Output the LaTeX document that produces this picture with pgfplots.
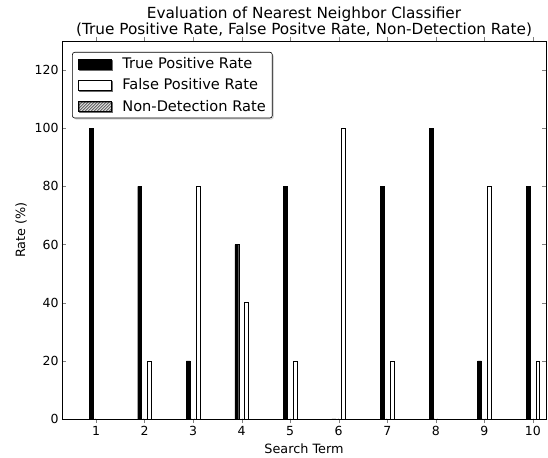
\documentclass[border=0pt]{standalone}
\usepackage{fontspec}
\setmainfont{DejaVu Sans}
\usepackage{pgfplots}
\pgfplotsset{compat=1.18}
\usetikzlibrary{patterns,shadows}
\begin{document}
\begin{tikzpicture}
\begin{axis}[
  name=ax,
  scale only axis, clip=false,
  width=484pt, height=378pt,
  xmin=0.3, xmax=10.27, ymin=0, ymax=130,
  xtick={1,...,10}, ytick={0,20,...,120},
  tick align=inside, major tick length=4pt,
  xtick pos=both, ytick pos=both,
  axis line style={line width=0.6pt},
  /pgf/number format/assume math mode=true,
  tick label style={font=\fontsize{12.5}{14}\selectfont},
  label style={font=\fontsize{12.8}{15}\selectfont},
  xlabel={Search Term}, ylabel={Rate (\%)},
  xlabel style={at={(axis description cs:0.5,-0.0794)}, anchor=center},
  ylabel style={at={(axis description cs:-0.0847,0.5)}, anchor=center},
  legend style={at={(axis description cs:0.0207,0.971)}, anchor=north west, rounded corners=2.5pt,
    draw=black, line width=0.6pt, fill=white,
    drop shadow={shadow xshift=1.5pt, shadow yshift=-1.5pt, fill=gray!60},
    font=\fontsize{14.6}{16}\selectfont, row sep=6.5pt, inner xsep=5.5pt, inner ysep=4.5pt,
    nodes={inner sep=1pt}},
  legend cell align=left,
  ybar, bar width=0.08,
]
\addplot[draw=black, fill=black, bar shift=-0.1,
  legend image code/.code={\draw[sharp corners,line width=0.5pt,draw=black,fill=black] (0pt,-5pt) rectangle (33pt,5pt); \path (43pt,0pt);}] coordinates {
(1,100) (2,80) (3,20) (4,60) (5,80) (6,0) (7,80) (8,100) (9,20) (10,80)};
\addlegendentry{True Positive Rate}
\addplot[draw=black, fill=white, bar shift=0.1,
  legend image code/.code={\draw[sharp corners,line width=0.5pt,draw=black,fill=white] (0pt,-5pt) rectangle (33pt,5pt); \path (43pt,0pt);}] coordinates {
(1,0) (2,20) (3,80) (4,40) (5,20) (6,100) (7,20) (8,0) (9,80) (10,20)};
\addlegendentry{False Positive Rate}
\addplot[draw=black, pattern=north east lines, bar shift=0,
  legend image code/.code={\draw[sharp corners,line width=0.5pt,draw=black,pattern=north east lines] (0pt,-5pt) rectangle (33pt,5pt); \path (43pt,0pt);}] coordinates {
(1,0) (2,0) (3,0) (4,0) (5,0) (6,0) (7,0) (8,0) (9,0) (10,0)};
\addlegendentry{Non-Detection Rate}
\node[anchor=base, inner sep=0pt, font=\fontsize{15.3}{15}\selectfont] at (axis description cs:0.5,1.0582) {Evaluation of Nearest Neighbor Classifier};
\node[anchor=base, inner sep=0pt, font=\fontsize{15.3}{15}\selectfont] at (axis description cs:0.5,1.0185) {(True Positive Rate, False Positve Rate, Non-Detection Rate)};
\end{axis}
\path[use as bounding box] ([shift={(-62pt,-37pt)}]ax.south west) rectangle ([shift={(2pt,41pt)}]ax.north east);
\end{tikzpicture}
\end{document}
